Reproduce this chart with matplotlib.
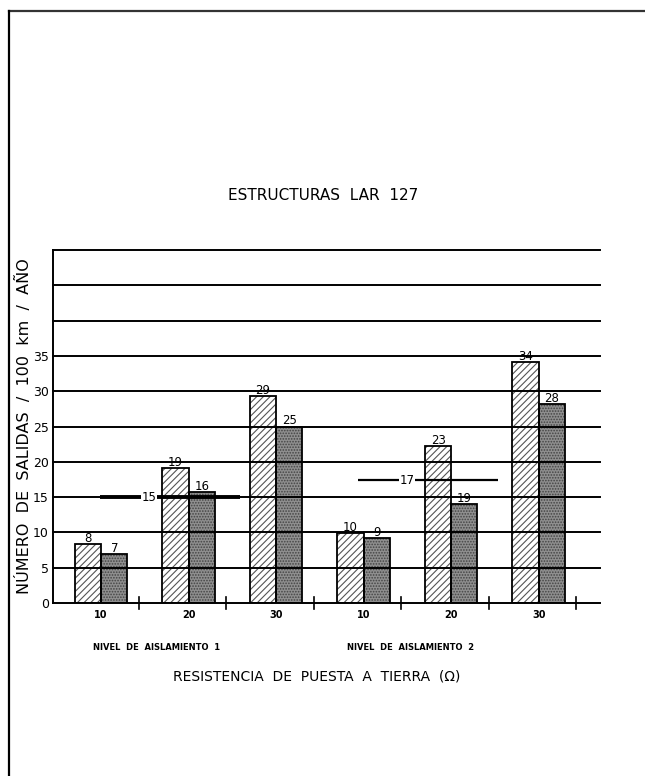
import numpy as np
import matplotlib
matplotlib.use("Agg")
import matplotlib.pyplot as plt
from matplotlib.lines import Line2D

# data
groups = ["10", "20", "30", "10", "20", "30"]
hatched_vals = [8.3, 19.1, 29.3, 9.9, 22.2, 34.1]
hatched_labels = ["8", "19", "29", "10", "23", "34"]
dark_vals = [6.9, 15.7, 25.0, 9.2, 14.0, 28.2]
dark_labels = ["7", "16", "25", "9", "19", "28"]
avg_vals = [15.0, 17.4]
avg_labels = ["15", "17"]
avg_spans = [(-0.01, 1.59), (2.94, 4.54)]
yticks = [0, 5, 10, 15, 20, 25, 30, 35]
grid_levels = [0, 5, 10, 15, 20, 25, 30, 35, 40, 45, 50]

plt.rcParams["font.family"] = "DejaVu Sans"
plt.rcParams["hatch.linewidth"] = 0.8

fig = plt.figure(figsize=(6.45, 7.76), dpi=100)
ax = fig.add_axes([53 / 645, 173 / 776, 547 / 645, 353 / 776])

x = np.arange(len(groups))
w = 0.30
# hatch drawn in grey, outline in black
ax.bar(x - w / 2, hatched_vals, w, facecolor="white", edgecolor="#555555",
       hatch="/////", linewidth=0, zorder=2)
ax.bar(x - w / 2, hatched_vals, w, fill=False, edgecolor="black",
       linewidth=1.3, zorder=2.5)
ax.bar(x + w / 2, dark_vals, w, facecolor="#8f8f8f", edgecolor="#444444",
       hatch="......", linewidth=0, zorder=2)
ax.bar(x + w / 2, dark_vals, w, fill=False, edgecolor="black",
       linewidth=1.3, zorder=2.5)

for lv in grid_levels:
    ax.axhline(lv, color="black", lw=1.4, zorder=3, clip_on=False)

for xi, v, t in zip(x, hatched_vals, hatched_labels):
    ax.text(xi - w / 2, v - 0.1, t, ha="center", va="bottom", fontsize=8.5, zorder=5)
for xi, v, t in zip(x, dark_vals, dark_labels):
    ax.text(xi + w / 2, v - 0.1, t, ha="center", va="bottom", fontsize=8.5, zorder=5)

# average lines
lws = [2.8, 1.6]
for (a, b), v, t, lw in zip(avg_spans, avg_vals, avg_labels, lws):
    ax.plot([a, b], [v, v], color="black", lw=lw, zorder=4, solid_capstyle="butt")
    ax.text(a + 0.35 * (b - a), v, t, ha="center", va="center", fontsize=8.5,
            zorder=6, bbox=dict(facecolor="white", edgecolor="none", pad=0.3))

# separator marks on the x axis
for xi in x:
    ax.plot([xi + 0.43, xi + 0.43], [-0.85, 0.85], color="black", lw=1.2,
            zorder=4, clip_on=False)

ax.set_xlim(-0.55, 5.70)
ax.set_ylim(0, 50)
ax.set_xticks(x)
ax.set_xticklabels(groups, fontsize=7, fontweight="bold")
ax.set_yticks(yticks)
ax.set_yticklabels([str(t) for t in yticks], fontsize=9)
ax.tick_params(length=0, pad=3)
ax.tick_params(axis="x", pad=5)
for s in ["top", "right", "bottom"]:
    ax.spines[s].set_visible(False)
ax.spines["left"].set_linewidth(1.4)

ax.set_ylabel("NÚMERO  DE  SALIDAS  /  100  km  /  AÑO", fontsize=11.5, labelpad=1)

fig.text(323 / 645, 1 - 196 / 776, "ESTRUCTURAS  LAR  127", ha="center", va="center",
         fontsize=11)
fig.text(157 / 645, 1 - 648 / 776, "NIVEL  DE  AISLAMIENTO  1", ha="center",
         va="center", fontsize=6, fontweight="bold")
fig.text(411 / 645, 1 - 648 / 776, "NIVEL  DE  AISLAMIENTO  2", ha="center",
         va="center", fontsize=6, fontweight="bold")
fig.text(317 / 645, 1 - 677 / 776, "RESISTENCIA  DE  PUESTA  A  TIERRA  (Ω)",
         ha="center", va="center", fontsize=10)

# page frame (top and left edges)
fig.add_artist(Line2D([9 / 645, 1], [1 - 11 / 776, 1 - 11 / 776], color="#333333",
                      lw=1.6, transform=fig.transFigure))
fig.add_artist(Line2D([9 / 645, 9 / 645], [0, 1 - 11 / 776], color="black",
                      lw=1.6, transform=fig.transFigure))

fig.savefig("out.png", dpi=100)
